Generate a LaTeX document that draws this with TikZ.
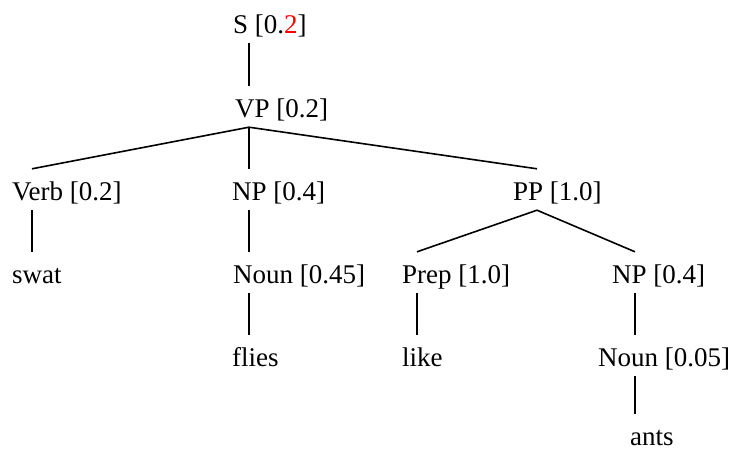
\documentclass[tikz,border=0pt]{standalone}
\usepackage{fontspec}
\setmainfont{Liberation Serif}
\usetikzlibrary{positioning}

\begin{document}
\begin{tikzpicture}[x=1pt,y=-1pt]

\useasboundingbox (0,0) rectangle (734,450);

\begin{scope}[
every node/.style={anchor=base west, inner sep=0pt, text height=31pt, text depth=10pt,
    font=\fontsize{27}{32}\selectfont},
leaf/.style={text depth=0pt},
branch/.style={line width=1.6pt}] %north and south of a node sit where its branches end

% parse tree nodes, placed by the left end of their text
\node (s) at (233,33) {S [0.\textcolor{red}{2}]};
\node (vp) at (235,117) {VP [0.2]};
\node (verb) at (12,200) {Verb [0.2]};
\node (np) at (232,200) {NP [0.4]};
\node (pp) at (513,200) {PP [1.0]};
\node[leaf] (swat) at (12,283) {swat};
\node (noun) at (233,283) {Noun [0.45]};
\node (prep) at (402,283) {Prep [1.0]};
\node (np2) at (612,283) {NP [0.4]};
\node[leaf] (flies) at (232,366) {flies};
\node[leaf] (like) at (402,366) {like};
\node (noun2) at (598,366) {Noun [0.05]};
\node[leaf] (ants) at (630,445) {ants};

% branches
\draw[branch] ([xshift=16pt]s.south west) -- ([xshift=14pt]vp.north west);
\draw[branch] ([xshift=20pt]verb.north west) -- ([xshift=14pt]vp.south west) -- ([xshift=24pt]pp.north west);
\draw[branch] ([xshift=14pt]vp.south west) -- ([xshift=17pt]np.north west);
\draw[branch] ([xshift=20pt]verb.south west) -- ([xshift=20pt]swat.north west);
\draw[branch] ([xshift=17pt]np.south west) -- ([xshift=16pt]noun.north west);
\draw[branch] ([xshift=16pt]noun.south west) -- ([xshift=17pt]flies.north west);
\draw[branch] ([xshift=15pt]prep.north west) -- ([xshift=24pt]pp.south west) -- ([xshift=23pt]np2.north west);
\draw[branch] ([xshift=15pt]prep.south west) -- ([xshift=15pt]like.north west);
\draw[branch] ([xshift=23pt]np2.south west) -- ([xshift=37pt]noun2.north west);
\draw[branch] ([xshift=37pt]noun2.south west) -- ([xshift=5pt]ants.north west);
\end{scope}
\end{tikzpicture}
\end{document}
